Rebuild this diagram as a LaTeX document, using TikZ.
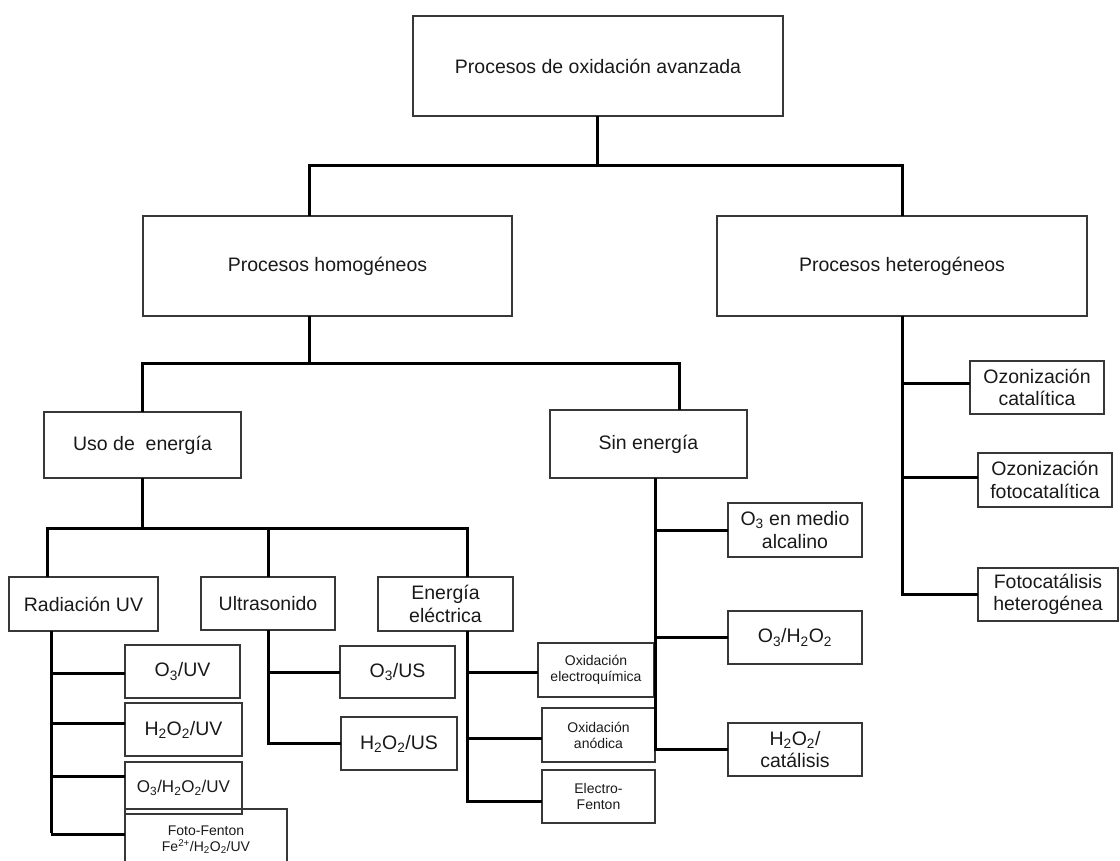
\documentclass[tikz,border=0pt]{standalone}
\usepackage{fontspec}
\setmainfont{Liberation Sans}
\usepackage{tikz}
\definecolor{boxgray}{RGB}{55,55,55}
\definecolor{txtgray}{RGB}{25,25,25}

\begin{document}
\begin{tikzpicture}[
                x=1pt, y=-1pt,
                font=\fontsize{19.5}{22.5}\selectfont,
                box/.style={
                        draw=boxgray, line width=1.5pt, text=txtgray,
                        align=center, inner sep=0pt, outer sep=0pt
                    },
                small/.style={font=\fontsize{14}{16}\selectfont},
                mid/.style={font=\fontsize{17}{20}\selectfont},
                conn/.style={line width=3pt, black}
                ]
                \useasboundingbox (0,0) rectangle (1120,861);
                % top levels
                \node[box, minimum width=370pt, minimum height=100pt] (aop) at (598,66) {Procesos de oxidación avanzada};
                \node[box, minimum width=369pt, minimum height=100pt] (homog) at (327.5,266) {Procesos homogéneos};
                \node[box, minimum width=370pt, minimum height=100pt] (heterog) at (902,266) {Procesos heterogéneos};
                \node[box, minimum width=197pt, minimum height=66pt] (uso) at (142.5,445) {Uso de~ energía};
                \node[box, minimum width=197pt, minimum height=68pt] (sin) at (648.5,444) {Sin energía};
                % uso de energia
                \node[box, minimum width=149pt, minimum height=54pt] (radUV) at (83.5,604) {Radiación UV};
                \node[box, minimum width=134pt, minimum height=53pt] (ultra) at (268,603.5) {Ultrasonido};
                \node[box, minimum width=135pt, minimum height=54pt] (eelec) at (445.5,604) {Energía\\eléctrica};
                \node[box, minimum width=115pt, minimum height=53pt] (o3uv) at (182.5,671.5) {O\textsubscript{3}/UV};
                \node[box, minimum width=117pt, minimum height=53pt] (h2o2uv) at (183.5,729.5) {H\textsubscript{2}O\textsubscript{2}/UV};
                \node[box, mid, minimum width=117pt, minimum height=52pt] (o3h2o2uv) at (183.5,788) {O\textsubscript{3}/H\textsubscript{2}O\textsubscript{2}/UV};
                \node[box, small, minimum width=162pt, minimum height=62pt] (fotofenton) at (206,840) {Foto-Fenton\\Fe\textsuperscript{2+}/H\textsubscript{2}O\textsubscript{2}/UV};
                \node[box, minimum width=115pt, minimum height=52pt] (o3us) at (397.5,672) {O\textsubscript{3}/US};
                \node[box, minimum width=116pt, minimum height=53pt] (h2o2us) at (399,743.5) {H\textsubscript{2}O\textsubscript{2}/US};
                \node[box, small, minimum width=116pt, minimum height=54pt] (oxelec) at (596,670) {Oxidación\\electroquímica};
                \node[box, small, minimum width=113pt, minimum height=54pt] (oxanod) at (598.5,735) {Oxidación\\anódica};
                \node[box, small, minimum width=113pt, minimum height=53pt] (efenton) at (598.5,796.5) {Electro-\\Fenton};
                % sin energia
                \node[box, minimum width=134pt, minimum height=54pt] (o3alc) at (795,530) {O\textsubscript{3} en medio\\alcalino};
                \node[box, minimum width=134pt, minimum height=53pt] (o3h2o2) at (795,637.5) {O\textsubscript{3}/H\textsubscript{2}O\textsubscript{2}};
                \node[box, minimum width=134pt, minimum height=53pt] (h2o2cat) at (795,749.5) {H\textsubscript{2}O\textsubscript{2}/\\catálisis};
                % heterogeneos
                \node[box, minimum width=134pt, minimum height=53pt] (ozcat) at (1037,387.5) {Ozonización\\catalítica};
                \node[box, minimum width=134pt, minimum height=54pt] (ozfoto) at (1045,480) {Ozonización\\fotocatalítica};
                \node[box, minimum width=140pt, minimum height=53pt] (fotohet) at (1048,594.5) {Fotocatálisis\\heterogénea};

                \coordinate (j1) at (597,166);
                \coordinate (j2) at (309,363);
                \coordinate (j3) at (142.5,528);
                \coordinate (sx) at (679,0);
                \coordinate (rx) at (47,0);
                \coordinate (ex) at (467,0);
                \coordinate (bUV) at (51,833);
                \coordinate (bSin) at (655,0);

                \draw[conn] (aop.south -| j1) -- (j1);
                \draw[conn] (homog.north -| j2) |- (j1) -| (heterog.north);
                \draw[conn] (homog.south -| j2) -- (j2);
                \draw[conn] (uso.north) |- (j2) -| (sin.north -| sx);
                \draw[conn] (uso.south) -- (j3);
                \draw[conn] (radUV.north -| rx) |- (j3) -| (eelec.north -| ex);
                \draw[conn] (ultra.north) -- (ultra.north |- j3);

                \draw[conn] (radUV.south -| bUV) -- (bUV);
                \foreach \n/\s in {o3uv/-1.5, h2o2uv/6.5, o3h2o2uv/12, fotofenton/6}
                    \draw[conn] ([yshift=\s pt]\n.west) -- ([yshift=\s pt]\n.west -| bUV);
                \draw[conn] (ultra.south) |- (h2o2us.west);
                \draw[conn] (o3us.west) -- (o3us.west -| ultra.south);
                \draw[conn] (eelec.south -| ex) |- ([yshift=-5pt]efenton.west);
                \foreach \n/\s in {oxelec/-2, oxanod/-3}
                    \draw[conn] ([yshift=\s pt]\n.west) -- ([yshift=\s pt]\n.west -| ex);

                \draw[conn] (sin.south -| bSin) |- (h2o2cat.west);
                \foreach \n in {o3alc, o3h2o2}
                    \draw[conn] (\n.west) -- (\n.west -| bSin);
                \draw[conn] (heterog.south) |- (fotohet.west);
                \foreach \n/\s in {ozcat/4.5, ozfoto/3}
                    \draw[conn] ([yshift=\s pt]\n.west) -- ([yshift=\s pt]\n.west -| heterog.south);
            \end{tikzpicture}
\end{document}
